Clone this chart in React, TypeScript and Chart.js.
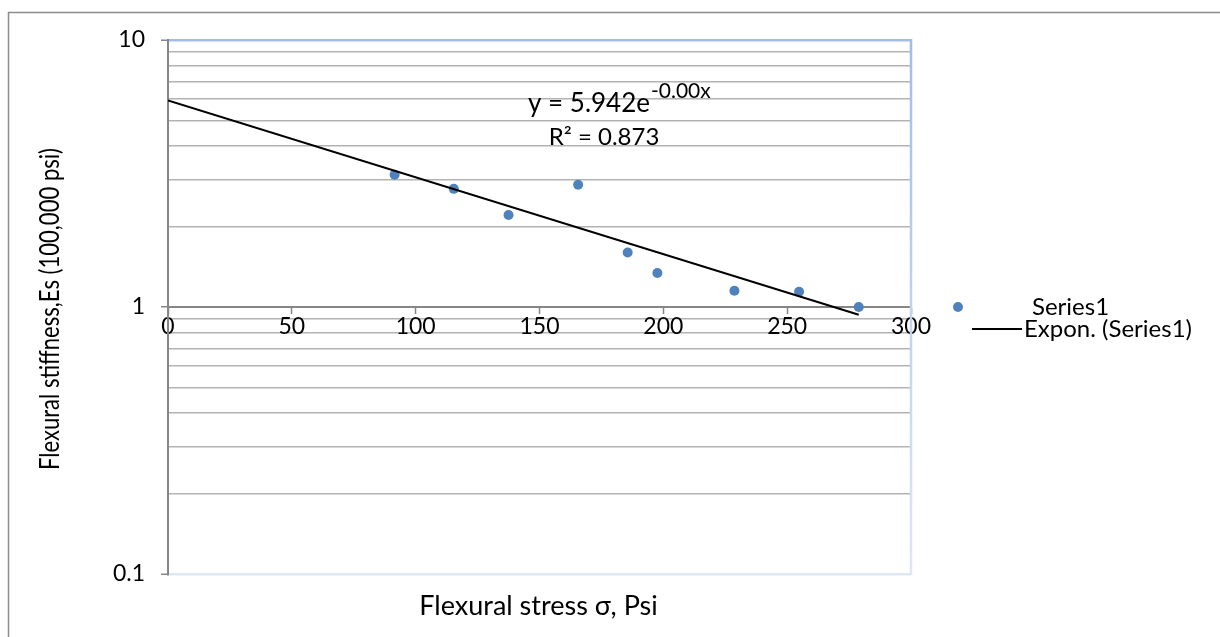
import React, { useEffect, useRef } from "react";
import { Chart, registerables } from "chart.js";

Chart.register(...registerables);

// ---- data ----
const stressPsi = [91.5, 115.4, 137.5, 165.6, 185.6, 197.6, 228.7, 254.8, 278.9];
const stiffness = [3.13, 2.77, 2.21, 2.87, 1.6, 1.34, 1.15, 1.14, 1.0];
const trendX = [0, 278.9];
const trendY = [5.942, 0.935];
const yTickValues = [
  0.1, 0.2, 0.3, 0.4, 0.5, 0.6, 0.7, 0.8, 0.9,
  1, 2, 3, 4, 5, 6, 7, 8, 9, 10,
];
const yLabelValues = [0.1, 1, 10];
const xTickValues = [0, 50, 100, 150, 200, 250, 300];
const seriesName = "Series1";
const trendName = "Expon. (Series1)";
const equationMain = "y = 5.942e";
const equationExp = "-0.00x";
const rSquared = "R\u00B2 = 0.873";
const xTitle = "Flexural stress \u03C3, Psi";
const yTitle = "Flexural stiffness,Es (100,000 psi)";

const FONT = "Lato, 'Open Sans', sans-serif";
const BLUE = "#4f81bd";
const AXIS = "#868686";
const GRID = "#b3b3b3";

const isLabel = (v: number) => yLabelValues.some((l) => Math.abs(l - v) < 1e-9);

// draw centred text squeezed horizontally to a given width (Calibri-like narrowness)
function fitText(ctx: any, text: string, x: number, y: number, size: number, width: number) {
  ctx.save();
  ctx.font = `${size}px ${FONT}`;
  const w = ctx.measureText(text).width;
  const k = Math.min(1, width / w);
  ctx.translate(x, y);
  ctx.scale(k, 1);
  ctx.textAlign = "center";
  ctx.textBaseline = "middle";
  ctx.fillText(text, 0, 0);
  ctx.restore();
}

const overlay = {
  id: "overlay",
  afterDraw(chart: any) {
    const ctx = chart.ctx;
    const a = chart.chartArea;
    const ys = chart.scales.y;
    ctx.save();
    // outer frame (left and top visible)
    ctx.strokeStyle = "#8c8c8c";
    ctx.lineWidth = 1.5;
    ctx.beginPath();
    ctx.moveTo(8.5, 640);
    ctx.lineTo(8.5, 12.5);
    ctx.lineTo(1230, 12.5);
    ctx.stroke();

    // right border of plot area
    const g = ctx.createLinearGradient(0, a.top, 0, a.bottom);
    g.addColorStop(0, "#a3bce8");
    g.addColorStop(1, "#dfe7f5");
    ctx.strokeStyle = g;
    ctx.lineWidth = 2.5;
    ctx.beginPath();
    ctx.moveTo(a.right, a.top - 1);
    ctx.lineTo(a.right, a.bottom + 1);
    ctx.stroke();

    ctx.fillStyle = "#000";
    // x title
    fitText(ctx, xTitle, (a.left + a.right) / 2 - 1, 606, 27, 240);
    // y title
    ctx.save();
    ctx.translate(51, 309);
    ctx.rotate(-Math.PI / 2);
    fitText(ctx, yTitle, 0, 0, 26, 322);
    ctx.restore();

    // trendline equation
    ctx.font = `26px ${FONT}`;
    ctx.textAlign = "left";
    ctx.textBaseline = "alphabetic";
    const mainW = ctx.measureText(equationMain).width;
    const eqLeft = 528;
    ctx.fillText(equationMain, eqLeft, 112);
    ctx.font = `21px ${FONT}`;
    ctx.fillText(equationExp, eqLeft + mainW + 1, 98);
    ctx.font = `24px ${FONT}`;
    ctx.textAlign = "center";
    ctx.fillText(rSquared, 604, 145);

    // legend
    const y1 = ys.getPixelForValue(1);
    ctx.fillStyle = BLUE;
    ctx.beginPath();
    ctx.arc(958, y1, 5, 0, Math.PI * 2);
    ctx.fill();
    ctx.fillStyle = "#000";
    ctx.font = `24px ${FONT}`;
    ctx.textAlign = "left";
    ctx.textBaseline = "middle";
    ctx.fillText(seriesName, 1032, y1);
    const y2 = y1 + 22;
    ctx.strokeStyle = "#000";
    ctx.lineWidth = 2;
    ctx.beginPath();
    ctx.moveTo(972, y2);
    ctx.lineTo(1022, y2);
    ctx.stroke();
    ctx.fillText(trendName, 1024, y2);
    ctx.restore();
  },
};

export default function App() {
  const ref = useRef<HTMLCanvasElement | null>(null);
  useEffect(() => {
    if (!ref.current) return;
    const chart = new Chart(ref.current, {
      type: "scatter",
      data: {
        datasets: [
          {
            label: seriesName,
            data: stressPsi.map((x, i) => ({ x, y: stiffness[i] })),
            backgroundColor: BLUE,
            borderWidth: 0,
            pointRadius: 5,
            showLine: false,
            order: 1,
          },
          {
            label: trendName,
            data: trendX.map((x, i) => ({ x, y: trendY[i] })),
            borderColor: "#000",
            borderWidth: 2,
            pointRadius: 0,
            showLine: true,
            order: 0,
          },
        ],
      },
      plugins: [overlay],
      options: {
        responsive: false,
        animation: false,
        devicePixelRatio: 1,
        layout: { padding: { left: 0, top: 40, right: 309, bottom: 63 } },
        plugins: { legend: { display: false }, tooltip: { enabled: false } },
        scales: {
          x: {
            type: "linear",
            min: 0,
            max: 300,
            position: { y: 1 },
            afterBuildTicks: (s: any) => {
              s.ticks = xTickValues.map((v) => ({ value: v }));
            },
            grid: {
              drawOnChartArea: false,
              drawTicks: true,
              tickLength: 6,
              tickColor: AXIS,
              tickWidth: 1.5,
            },
            border: { display: true, color: AXIS, width: 2 },
            ticks: {
              color: "#000",
              font: { family: FONT, size: 23 },
              padding: 0,
              maxRotation: 0,
              autoSkip: false,
            },
          },
          y: {
            type: "logarithmic",
            min: 0.1,
            max: 10,
            position: "left",
            afterFit: (s: any) => {
              s.width = 168;
            },
            afterBuildTicks: (s: any) => {
              s.ticks = yTickValues.map((v) => ({ value: v, major: isLabel(v) }));
            },
            grid: {
              color: (c: any) => {
                const v = c.tick ? c.tick.value : 0;
                if (Math.abs(v - 10) < 1e-9) return "#a3bce8";
                if (Math.abs(v - 0.1) < 1e-9) return "#dfe7f5";
                if (Math.abs(v - 1) < 1e-9) return "rgba(0,0,0,0)";
                return GRID;
              },
              lineWidth: (c: any) => {
                const v = c.tick ? c.tick.value : 0;
                if (Math.abs(v - 10) < 1e-9 || Math.abs(v - 0.1) < 1e-9) return 2.5;
                return 1.5;
              },
              tickColor: (c: any) => (c.tick && isLabel(c.tick.value) ? AXIS : "rgba(0,0,0,0)"),
              tickLength: 7,
              tickWidth: 1.5,
            },
            border: { display: true, color: AXIS, width: 2 },
            ticks: {
              color: "#000",
              font: { family: FONT, size: 23 },
              padding: 16,
              autoSkip: false,
              callback: (v: any) => (isLabel(Number(v)) ? String(v) : ""),
            },
          },
        },
      },
    } as any);
    return () => chart.destroy();
  }, []);
  return (
    <div style={{ position: "absolute", left: 0, top: 0, width: 1220, height: 637, background: "#fff" }}>
      <canvas ref={ref} width={1220} height={637} style={{ display: "block" }} />
    </div>
  );
}
